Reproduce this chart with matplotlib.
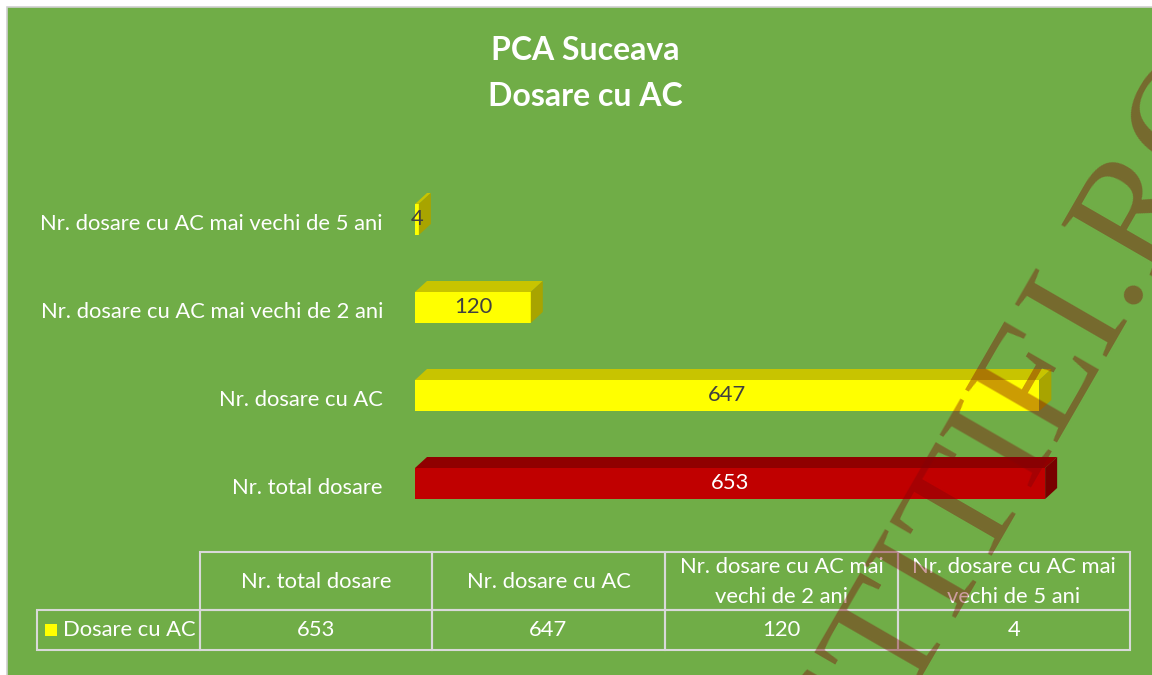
import matplotlib.pyplot as plt
from matplotlib.patches import Polygon, Rectangle
from matplotlib.transforms import IdentityTransform, blended_transform_factory

# Data (bottom to top)
categories = ["Nr. total dosare", "Nr. dosare cu AC",
              "Nr. dosare cu AC mai vechi de 2 ani", "Nr. dosare cu AC mai vechi de 5 ani"]
values = [653, 647, 120, 4]
series_name = "Dosare cu AC"
table_headers = ["Nr. total dosare", "Nr. dosare cu AC",
                 "Nr. dosare cu AC mai\nvechi de 2 ani", "Nr. dosare cu AC mai\nvechi de 5 ani"]

green = "#70AD47"
front_cols = ["#C00000", "#FFFF00", "#FFFF00", "#FFFF00"]
top_cols = ["#900000", "#C8C400", "#C8C400", "#C8C400"]
side_cols = ["#780000", "#A8A400", "#A8A400", "#A8A400"]
label_cols = ["white", "#404040", "#404040", "#404040"]

plt.rcParams["font.family"] = ["Lato", "DejaVu Sans"]
fs = 15.8

W, H = 1152, 675
fig = plt.figure(figsize=(W / 100, H / 100), dpi=100)
fig.patch.set_facecolor("white")
fig.patches.append(Rectangle((7 / W, -0.02), 1, 1 - 7 / H + 0.02, transform=fig.transFigure,
                             facecolor=green, edgecolor="#D0D0D0", lw=1.2, zorder=-5))

# Title
fig.text(585 / W, 1 - 51 / H, "PCA Suceava", ha="center", va="center",
         color="white", fontsize=23, fontweight="bold")
fig.text(585 / W, 1 - 97 / H, "Dosare cu AC", ha="center", va="center",
         color="white", fontsize=23, fontweight="bold")

# Bar axes: x=0 at px 415, 0.965 px per unit; categories every 88 px
xmax = 700
px_per_unit = 0.965
ax_w = xmax * px_per_unit
ax = fig.add_axes([415 / W, (H - 527.5) / H, ax_w / W, 352 / H])
ax.set_xlim(0, xmax)
ax.set_ylim(-0.5, 3.5)
ax.patch.set_visible(False)
for s in ax.spines.values():
    s.set_visible(False)
ax.set_xticks([])
ax.set_yticks([])

ypos = list(range(len(values)))
bh = 31 / 88
dx = 12 / px_per_unit
dy = 11 / 88
ax.barh(ypos, values, height=bh, color=front_cols, zorder=2)
for y, v, tc, sc, lc in zip(ypos, values, top_cols, side_cols, label_cols):
    top = y + bh / 2
    bot = y - bh / 2
    ax.add_patch(Polygon([(0, top), (dx, top + dy), (v + dx, top + dy), (v, top)],
                         closed=True, facecolor=tc, edgecolor="none", zorder=2))
    ax.add_patch(Polygon([(v, top), (v + dx, top + dy), (v + dx, bot + dy), (v, bot)],
                         closed=True, facecolor=sc, edgecolor="none", zorder=2))
    ax.text(v / 2, y + 0.01, str(v), ha="center", va="center", color=lc, fontsize=fs, zorder=3)

# category labels, right-aligned left of the bars
lab_tr = blended_transform_factory(ax.transAxes, ax.transData)
for y, cat in zip(ypos, categories):
    ax.text(-32 / ax_w, y - 4 / 88, cat, transform=lab_tr, ha="right", va="center",
            color="white", fontsize=fs)

# Data table
tax = fig.add_axes([0, 0, 1, 1])
tax.set_axis_off()
tax.set_xlim(0, W)
tax.set_ylim(H, 0)
col_edges = [200, 432, 665, 898, 1130]
y_head_top, y_mid, y_bot = 552, 610, 650
line_col = "#D9D9D9"
# header row
for x0, x1, txt in zip(col_edges[:-1], col_edges[1:], table_headers):
    tax.add_patch(Rectangle((x0, y_head_top), x1 - x0, y_mid - y_head_top,
                            facecolor="none", edgecolor=line_col, lw=1.5))
    tax.text((x0 + x1) / 2, (y_head_top + y_mid) / 2 + 1, txt, ha="center", va="center",
             color="white", fontsize=fs, linespacing=1.6)
# data row
tax.add_patch(Rectangle((37, y_mid), col_edges[0] - 37, y_bot - y_mid,
                        facecolor="none", edgecolor=line_col, lw=1.5))
tax.add_patch(Rectangle((45, 624), 12, 12, facecolor="#FFFF00", edgecolor="none"))
tax.text(63, (y_mid + y_bot) / 2, series_name, ha="left", va="center",
         color="white", fontsize=fs)
for x0, x1, v in zip(col_edges[:-1], col_edges[1:], values):
    tax.add_patch(Rectangle((x0, y_mid), x1 - x0, y_bot - y_mid,
                            facecolor="none", edgecolor=line_col, lw=1.5))
    tax.text((x0 + x1) / 2, (y_mid + y_bot) / 2, str(v), ha="center", va="center",
             color="white", fontsize=fs)

# Watermark
fig.text(1260, H - 85, "LUMEAJUSTITIEI.RO", transform=IdentityTransform(),
         family=["Liberation Serif", "DejaVu Serif"], fontsize=115, color="#80050A",
         alpha=0.4, rotation=60, rotation_mode="anchor", ha="right", va="baseline", zorder=10)

fig.savefig("out.png", dpi=100, facecolor=fig.get_facecolor())
